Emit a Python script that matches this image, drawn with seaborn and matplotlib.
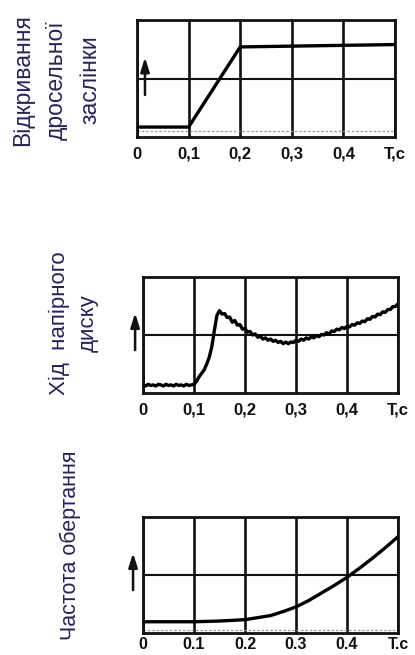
import numpy as np
import pandas as pd
import matplotlib
matplotlib.use("Agg")
import matplotlib.pyplot as plt
from matplotlib import font_manager
import seaborn as sns

# ---------------- data ----------------
tick_vals = [0, 0.1, 0.2, 0.3, 0.4, 0.5]
ticks_comma = ["0", "0,1", "0,2", "0,3", "0,4", "T,c"]
ticks_dot = ["0", "0.1", "0.2", "0.3", "0.4", "T.c"]

label_throttle = "Відкривання\nдросельної\nзаслінки"
label_disc = "Хід  напірного\nдиску"
label_speed = "Частота обертання"

throttle_t = [0.0, 0.1, 0.2, 0.5]
throttle_v = [0.085, 0.085, 0.77, 0.79]

disc_t = np.round(np.linspace(0, 0.5, 101), 3)
disc_v = [0.07, 0.06, 0.075, 0.065, 0.07, 0.06, 0.075, 0.07, 0.06, 0.075,
          0.065, 0.07, 0.06, 0.075, 0.065, 0.07, 0.06, 0.075, 0.065, 0.07,
          0.075,
          0.10, 0.14, 0.17, 0.20, 0.25, 0.31, 0.40, 0.54, 0.67, 0.71,
          0.68, 0.685, 0.65, 0.655, 0.61, 0.625, 0.585, 0.59, 0.55, 0.555,
          0.525, 0.53, 0.50, 0.51, 0.48, 0.49, 0.465, 0.475, 0.455, 0.465,
          0.445, 0.455, 0.435, 0.445, 0.425, 0.44, 0.425, 0.44, 0.435, 0.455,
          0.445, 0.465, 0.455, 0.475, 0.465, 0.485, 0.475, 0.495, 0.485, 0.505,
          0.50, 0.52, 0.51, 0.535, 0.53, 0.55, 0.545, 0.565, 0.555, 0.575,
          0.57, 0.59, 0.585, 0.605, 0.60, 0.62, 0.615, 0.64, 0.635, 0.66,
          0.655, 0.68, 0.675, 0.70, 0.695, 0.72, 0.72, 0.745, 0.745, 0.77]

speed_t = [0.0, 0.05, 0.1, 0.15, 0.2, 0.25, 0.275, 0.3, 0.325, 0.35, 0.375,
           0.4, 0.425, 0.45, 0.475, 0.5]
speed_v = [0.097, 0.097, 0.097, 0.103, 0.115, 0.15, 0.185, 0.225, 0.28, 0.345,
           0.41, 0.48, 0.56, 0.645, 0.735, 0.83]

# ---------------- style ----------------
sns.set_theme(style="white")
avail = {f.name for f in font_manager.fontManager.ttflist}
tick_font = "Liberation Sans Narrow" if "Liberation Sans Narrow" in avail else "Liberation Sans"
plt.rcParams["font.family"] = ["Liberation Sans", "DejaVu Sans"]

label_color = "#262262"

fig = plt.figure(figsize=(4.15, 6.55), dpi=100)
W, H = 415, 655


def add_axes(left, top, right, bottom):
    return fig.add_axes([left / W, 1 - bottom / H, (right - left) / W, (bottom - top) / H])


panels = [
    (add_axes(137, 20, 395, 137), throttle_t, throttle_v, ticks_comma, 0.05,
     (0.031, 0.36, 0.68), 7, 12),
    (add_axes(143, 277, 398, 393), disc_t, disc_v, ticks_comma, None,
     (-0.031, 0.37, 0.69), 7, 12),
    (add_axes(143, 517, 398, 633), speed_t, speed_v, ticks_dot, 0.026,
     (-0.039, 0.37, 0.69), 3, 11.5),
]

for ax, t, v, tlabels, faint, arr, pad, tfs in panels:
    ax.set_xlim(0, 0.5)
    ax.set_ylim(0, 1)
    ax.set_xticks(tick_vals)
    ax.set_xticklabels(tlabels, fontfamily=tick_font, fontweight="bold",
                       fontsize=tfs, color="#111111")
    ax.set_yticks([0.5])
    ax.set_yticklabels([])
    ax.tick_params(length=0, pad=pad)
    ax.grid(True, axis="x", color="#111111", linewidth=1.9)
    ax.grid(True, axis="y", color="#111111", linewidth=1.5)
    for s in ax.spines.values():
        s.set_visible(True)
        s.set_color("#111111")
        s.set_linewidth(2.0)
    if faint is not None:
        ax.axhline(faint, color="#9a9a9a", linewidth=0.9, linestyle=(0, (2, 1.5)), zorder=1)
    sns.lineplot(x=list(t), y=list(v), ax=ax, color="#000000", linewidth=2.4,
                 estimator=None, sort=False, zorder=5)
    ax.set_xlabel("")
    ax.set_ylabel("")
    ax_x, y0, y1 = arr
    ax.annotate("", xy=(ax_x, y1), xytext=(ax_x, y0), xycoords="axes fraction",
                textcoords="axes fraction", annotation_clip=False,
                arrowprops=dict(arrowstyle="-|>,head_length=0.7,head_width=0.22",
                                color="#111111", lw=1.8, shrinkA=0, shrinkB=0))

# side labels
fig.text(56.5 / W, 1 - 80 / H, label_throttle, rotation=90, ha="center", va="center",
         fontsize=16.5, color=label_color, linespacing=1.58, multialignment="center")
fig.text(73.5 / W, 1 - 323 / H, label_disc, rotation=90, ha="center", va="center",
         fontsize=16, color=label_color, linespacing=1.48, multialignment="center")
fig.text(70 / W, 1 - 545 / H, label_speed, rotation=90, ha="center", va="center",
         fontsize=15.5, color=label_color)

fig.savefig("out.png", dpi=100)
